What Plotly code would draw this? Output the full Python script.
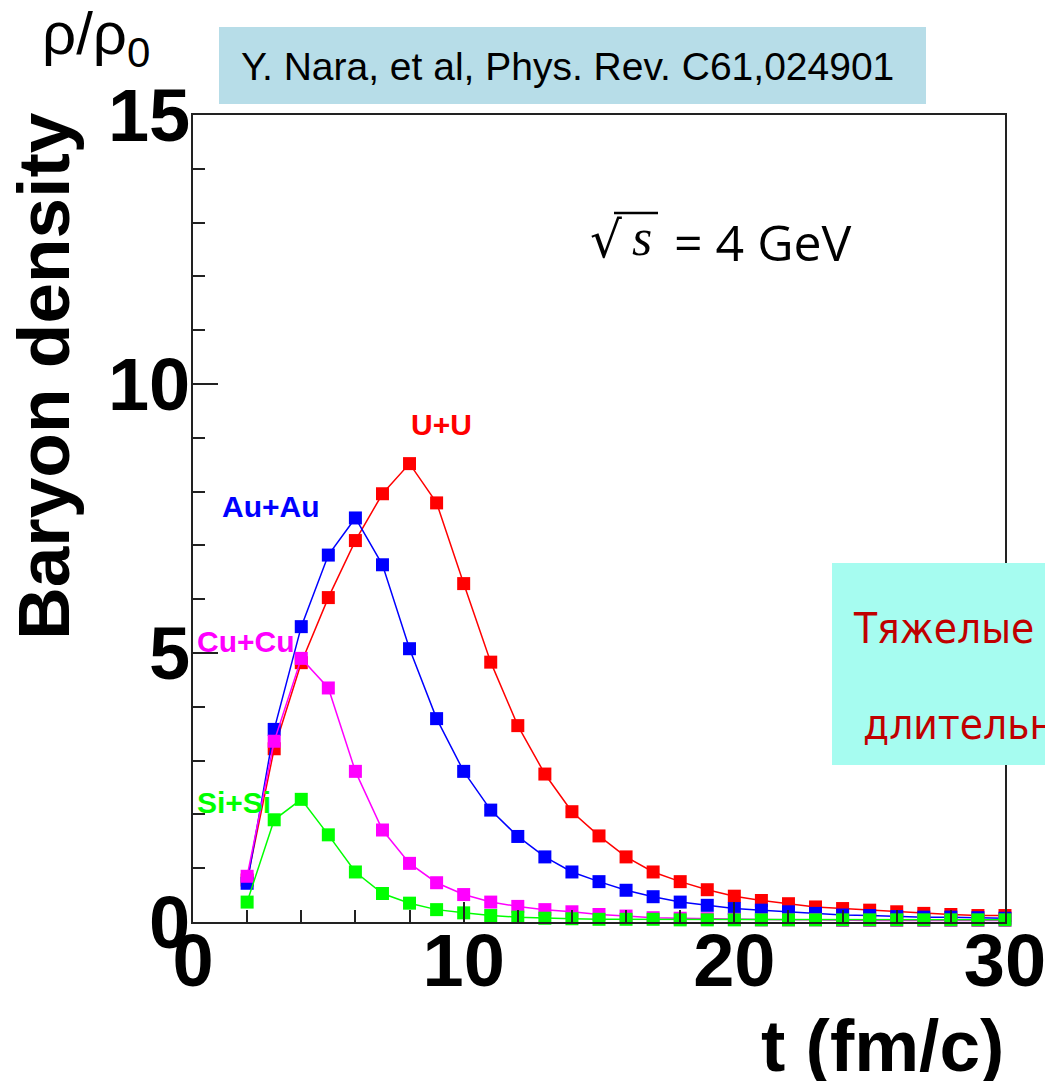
import plotly.graph_objects as go

# Baryon density vs time for central collisions at sqrt(s) = 4 GeV
t = list(range(2, 31))

uu = [0.78, 3.22, 4.82, 6.03, 7.09, 7.96, 8.52, 7.79, 6.29, 4.83, 3.65, 2.75, 2.05, 1.60,
      1.21, 0.93, 0.75, 0.60, 0.48, 0.40, 0.34, 0.28, 0.25, 0.22, 0.19, 0.16, 0.14, 0.12, 0.12]
auau = [0.72, 3.58, 5.49, 6.82, 7.51, 6.64, 5.08, 3.78, 2.80, 2.08, 1.59, 1.21, 0.93, 0.75,
        0.59, 0.47, 0.37, 0.31, 0.25, 0.22, 0.19, 0.16, 0.13, 0.12, 0.10, 0.09, 0.09, 0.08, 0.07]
cucu = [0.85, 3.36, 4.90, 4.35, 2.80, 1.71, 1.09, 0.73, 0.51, 0.37, 0.29, 0.23, 0.19, 0.14,
        0.11, 0.08, 0.07, 0.06, 0.05, 0.04, 0.04, 0.04, 0.03, 0.03, 0.03, 0.03, 0.03, 0.03, 0.03]
sisi = [0.37, 1.90, 2.28, 1.62, 0.93, 0.53, 0.35, 0.23, 0.17, 0.12, 0.09, 0.07, 0.06, 0.05,
        0.05, 0.05, 0.04, 0.04, 0.04, 0.04, 0.04, 0.04, 0.04, 0.04, 0.04, 0.04, 0.04, 0.04, 0.04]

systems = ["U+U", "Au+Au", "Cu+Cu", "Si+Si"]
colors = ["#ff0000", "#0000ff", "#ff00ff", "#00ff00"]
series = [uu, auau, cucu, sisi]

# label anchor points in data coordinates
label_x = [9.17, 2.89, 0.06, 0.06]
label_y = [9.24, 7.72, 5.22, 2.22]
label_anchor = ["center", "center", "left", "left"]

x_ticks = [0, 10, 20, 30]
y_ticks = [0, 5, 10, 15]

W, H = 1045, 1081
ML, MR, MT, MB = 193, 40, 115, 159
PW, PH = W - ML - MR, H - MT - MB


def fx(p):
    return (p - ML) / PW


def fy(p):
    return (H - MB - p) / PH


fig = go.Figure()
for name, col, ys in zip(systems, colors, series):
    fig.add_trace(go.Scatter(
        x=t, y=ys, mode="lines+markers", name=name,
        line=dict(color=col, width=1.5),
        marker=dict(symbol="square", size=13, color=col, line=dict(width=0)),
        showlegend=False, cliponaxis=False,
    ))

bold = dict(family="Liberation Sans, Arial, sans-serif", weight="bold")

for name, col, lx, ly, an in zip(systems, colors, label_x, label_y, label_anchor):
    fig.add_annotation(x=lx, y=ly, xref="x", yref="y", text=name, showarrow=False,
                       xanchor=an, yanchor="middle",
                       font=dict(size=30, color=col, **bold))

axis_common = dict(showline=True, linecolor="#222222", linewidth=2, mirror=True,
                   showgrid=False, zeroline=False, ticks="inside", automargin=False,
                   tickcolor="#222222", tickwidth=2, ticklabeloverflow="allow",
                   tickfont=dict(size=74, color="black", **bold))

fig.update_xaxes(range=[0, 30], tickvals=x_ticks, ticklen=20,
                 minor=dict(dtick=2, ticks="inside", ticklen=12, tickcolor="#222222", tickwidth=2),
                 ticklabelstandoff=-27, **axis_common)
fig.update_yaxes(range=[0, 15], tickvals=y_ticks, ticklen=25,
                 minor=dict(dtick=1, ticks="inside", ticklen=12, tickcolor="#222222", tickwidth=2),
                 ticklabelstandoff=-14, **axis_common)

shapes = [
    # citation box
    dict(type="rect", xref="paper", yref="paper", x0=fx(219), x1=fx(926), y0=fy(104), y1=fy(27),
         fillcolor="#b7dde8", line=dict(width=0), layer="above"),
    # note box at the right edge
    dict(type="rect", xref="paper", yref="paper", x0=fx(832), x1=fx(1060), y0=fy(765), y1=fy(563),
         fillcolor="#a6fcf0", line=dict(width=0), layer="above"),
    # vinculum of the square root
    dict(type="line", xref="paper", yref="paper", x0=fx(614), x1=fx(658), y0=fy(213), y1=fy(213),
         line=dict(color="black", width=2.5), layer="above"),
]
fig.update_layout(shapes=shapes)

paper_notes = [
    dict(x=fx(43), y=fy(376), text="<b>Baryon density</b>", textangle=-90,
         font=dict(size=73, color="black", family="Liberation Sans, Arial, sans-serif"),
         xanchor="center", yanchor="middle"),
    dict(x=fx(1006), y=fy(1045), text="<b>t (fm/c)</b>",
         font=dict(size=73, color="black", family="Liberation Sans, Arial, sans-serif"),
         xanchor="right", yanchor="middle"),
    dict(x=fx(40), y=fy(38), text="ρ/ρ<sub>0</sub>",
         font=dict(size=60, color="black", family="Liberation Sans, Arial, sans-serif"),
         xanchor="left", yanchor="middle"),
    dict(x=fx(567), y=fy(66), text="Y. Nara, et al, Phys. Rev. C61,024901",
         font=dict(size=39, color="black", family="Liberation Sans, Arial, sans-serif"),
         xanchor="center", yanchor="middle"),
    dict(x=fx(588), y=fy(240), text="√",
         font=dict(size=50, color="black", family="DejaVu Sans"),
         xanchor="left", yanchor="middle"),
    dict(x=fx(630), y=fy(237), text="<i>s</i>",
         font=dict(size=52, color="black", family="Liberation Serif, serif"),
         xanchor="left", yanchor="middle"),
    dict(x=fx(672), y=fy(242), text="= 4 GeV",
         font=dict(size=50, color="black", family="Open Sans, sans-serif"),
         xanchor="left", yanchor="middle"),
    dict(x=fx(851), y=fy(628), text="Тяжелые",
         font=dict(size=42, color="#c00000", family="Liberation Sans Narrow, DejaVu Sans Condensed, Liberation Sans, Arial"),
         xanchor="left", yanchor="middle"),
    dict(x=fx(861), y=fy(724), text="длительное",
         font=dict(size=42, color="#c00000", family="Liberation Sans Narrow, DejaVu Sans Condensed, Liberation Sans, Arial"),
         xanchor="left", yanchor="middle"),
]
for a in paper_notes:
    fig.add_annotation(xref="paper", yref="paper", showarrow=False, **a)

fig.update_layout(
    width=W, height=H,
    margin=dict(l=ML, r=MR, t=MT, b=MB, pad=0, autoexpand=False),
    paper_bgcolor="white", plot_bgcolor="white",
)

fig.write_html("out.html")
